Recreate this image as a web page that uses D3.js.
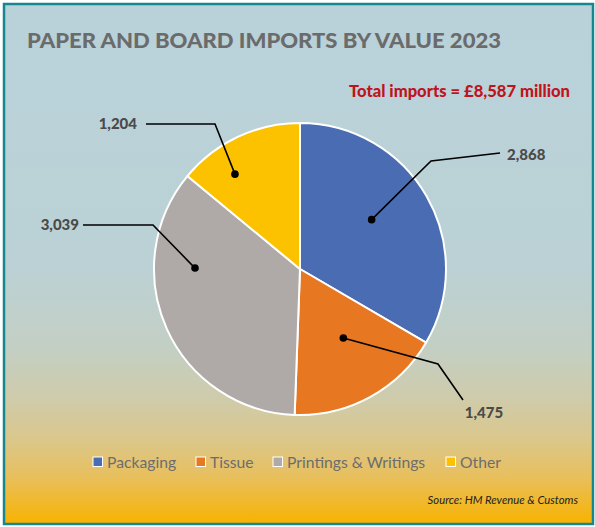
<!DOCTYPE html>
<html>
<head>
<meta charset="utf-8">
<script src="https://cdn.jsdelivr.net/npm/d3@7"></script>
<style>
  html, body { margin: 0; padding: 0; background: #ffffff; }
  svg { display: block; }
</style>
</head>
<body>
<div id="chart"></div>
<script>
// Paper and board imports by value, 2023 (£ million)
const categories = ["Packaging", "Tissue", "Printings & Writings", "Other"];
const values = [2868, 1475, 3039, 1204];
const valueLabels = ["2,868", "1,475", "3,039", "1,204"];
const colors = ["#4a6cb3", "#e87722", "#afaaa8", "#fcc200"];

const titleText = "PAPER AND BOARD IMPORTS BY VALUE 2023";
const totalText = "Total imports = £8,587 million";
const sourceText = "Source: HM Revenue & Customs";

const W = 595, H = 527;
const cx = 300, cy = 269, radius = 146;

const svg = d3.select("#chart").append("svg")
  .attr("width", W).attr("height", H);

// background gradient: grey-blue sky fading into amber
const defs = svg.append("defs");
const grad = defs.append("linearGradient")
  .attr("id", "bg").attr("x1", 0).attr("y1", 0).attr("x2", 0).attr("y2", 1);
[
  [0.00, "#b9d2da"],
  [0.50, "#bbd1d5"],
  [0.66, "#c3cfc4"],
  [0.76, "#cfcbaa"],
  [0.84, "#dbc78a"],
  [0.91, "#e8bf5c"],
  [1.00, "#f8b300"]
].forEach(([o, c]) => grad.append("stop").attr("offset", o).attr("stop-color", c));

svg.append("rect")
  .attr("x", 4).attr("y", 4).attr("width", 589).attr("height", 520)
  .attr("fill", "url(#bg)")
  .attr("stroke", "#17878f").attr("stroke-width", 2.5);

// title
svg.append("text")
  .attr("x", 27).attr("y", 48)
  .attr("font-family", "Lato, sans-serif").attr("font-weight", 900)
  .attr("font-size", 20.5).attr("fill", "#6b6b6b")
  .attr("textLength", 474).attr("lengthAdjust", "spacingAndGlyphs")
  .text(titleText);

svg.append("text")
  .attr("x", 349).attr("y", 97)
  .attr("font-family", "Lato, sans-serif").attr("font-weight", 900)
  .attr("font-size", 16).attr("fill", "#c0141c")
  .attr("textLength", 221).attr("lengthAdjust", "spacingAndGlyphs")
  .text(totalText);

// pie
const data = categories.map((c, i) => ({ cat: c, value: values[i], label: valueLabels[i], color: colors[i] }));
const pie = d3.pie().sort(null).value(d => d.value);
const arc = d3.arc().innerRadius(0).outerRadius(radius);
const arcs = pie(data);

const g = svg.append("g").attr("transform", `translate(${cx},${cy})`);
g.selectAll("path.slice").data(arcs).enter().append("path")
  .attr("class", "slice")
  .attr("d", arc)
  .attr("fill", d => d.data.color)
  .attr("stroke", "#ffffff").attr("stroke-width", 2)
  .attr("stroke-linejoin", "round");

// leader-line layout for each slice: dot (polar, relative to the slice's mid-angle),
// elbow and end point offsets from the pie centre, and label placement
const leaderLayout = [
  { dAng: -4.7, r: 87,  elbow: [131, -108], end: [200, -116], anchor: "start",  tx: 207, ty: -114 },
  { dAng: -3.3, r: 81.5, elbow: [138, 95],  end: [163, 131],  anchor: "middle", tx: 184, ty: 144 },
  { dAng: 24.7, r: 105, elbow: [-147, -44], end: [-217, -44], anchor: "end",    tx: -221, ty: -44 },
  { dAng: -9.2, r: 115, elbow: [-85, -145], end: [-154, -145], anchor: "end",   tx: -163, ty: -145 }
];

const toRad = Math.PI / 180;
const ann = g.selectAll("g.ann").data(arcs).enter().append("g").attr("class", "ann");

ann.each(function(d, i) {
  const L = leaderLayout[i];
  const mid = (d.startAngle + d.endAngle) / 2 + L.dAng * toRad;
  const px = L.r * Math.sin(mid), py = -L.r * Math.cos(mid);
  const sel = d3.select(this);
  sel.append("path")
    .attr("d", d3.line()([[px, py], L.elbow, L.end]))
    .attr("fill", "none").attr("stroke", "#000").attr("stroke-width", 1.6);
  sel.append("circle").attr("cx", px).attr("cy", py).attr("r", 3.8).attr("fill", "#000");
  sel.append("text")
    .attr("x", L.tx).attr("y", L.ty)
    .attr("dy", "0.36em")
    .attr("text-anchor", L.anchor)
    .attr("font-family", "Lato, sans-serif").attr("font-weight", 900)
    .attr("font-size", 15).attr("fill", "#4a4a4a")
    .text(d.data.label);
});

// legend
const legendX = [93, 196, 273, 446];
const legend = svg.append("g");
data.forEach((d, i) => {
  legend.append("rect")
    .attr("x", legendX[i]).attr("y", 457).attr("width", 9.5).attr("height", 9.5)
    .attr("fill", d.color).attr("stroke", "#ffffff").attr("stroke-width", 1);
  legend.append("text")
    .attr("x", legendX[i] + 14).attr("y", 467.5)
    .attr("font-family", "Lato, sans-serif").attr("font-size", 15.7)
    .attr("fill", "#6d6d6d")
    .text(d.cat);
});

svg.append("text")
  .attr("x", 578).attr("y", 504).attr("text-anchor", "end")
  .attr("font-family", "Lato, sans-serif").attr("font-style", "italic")
  .attr("font-size", 11.3).attr("fill", "#222222")
  .text(sourceText);
</script>
</body>
</html>
